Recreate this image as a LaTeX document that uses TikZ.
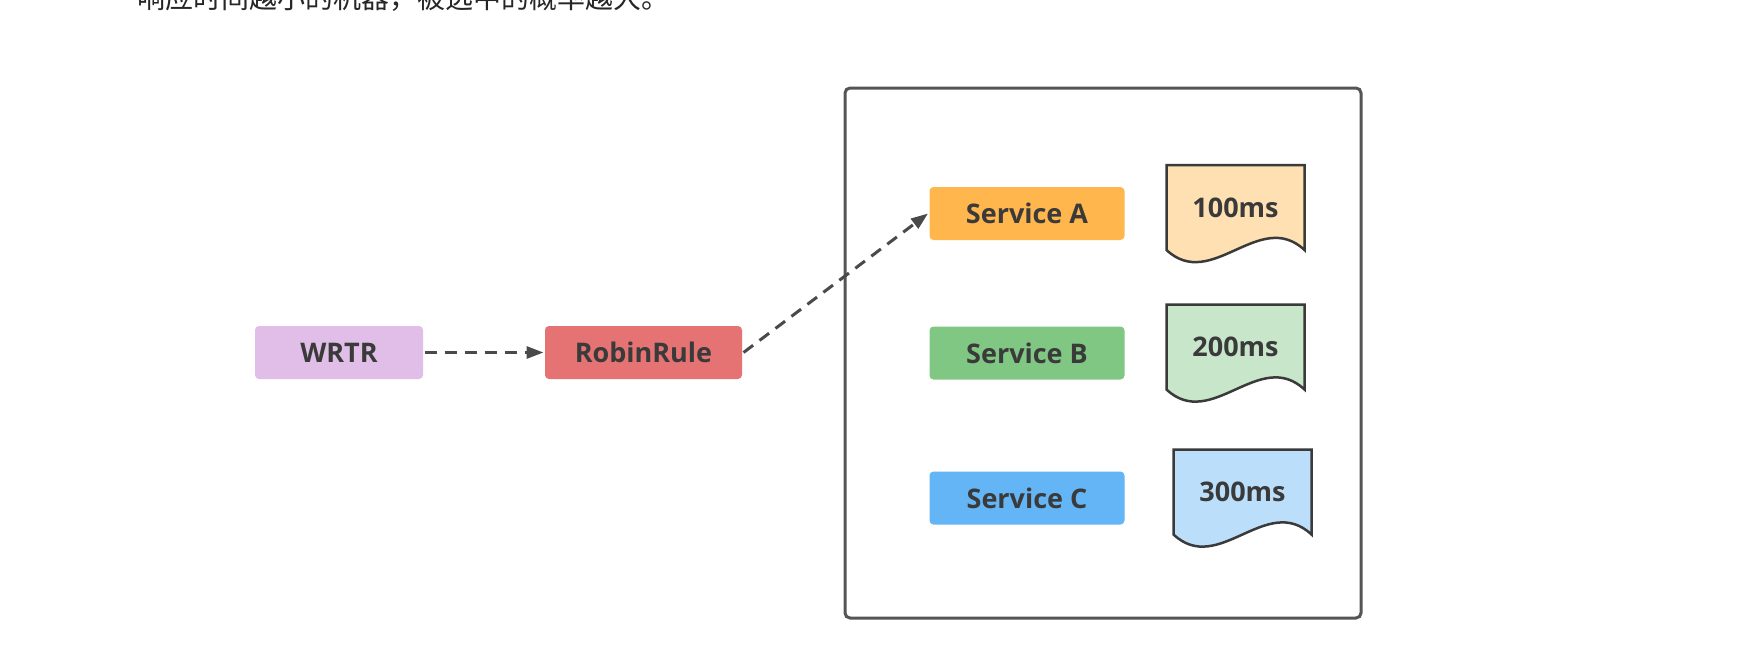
\documentclass[tikz,border=0pt]{standalone}
\usepackage{fontspec}
\setmainfont{Open Sans}
\newfontfamily\cjk{Noto Sans CJK SC}
\usetikzlibrary{calc,arrows.meta}

\definecolor{ink}{HTML}{3A3A3A}
\definecolor{lead}{HTML}{4A4A4A}
\definecolor{frameline}{HTML}{555555}
\definecolor{wrtrfill}{HTML}{E1BEE7}
\definecolor{robinfill}{HTML}{E57373}
\definecolor{svcA}{HTML}{FFB74D}
\definecolor{svcB}{HTML}{81C784}
\definecolor{svcC}{HTML}{64B5F6}
\definecolor{docA}{HTML}{FFE0B2}
\definecolor{docB}{HTML}{C8E6C9}
\definecolor{docC}{HTML}{BBDEFB}

\tikzset{
every picture/.style={
line width=3pt
}}
\tikzset{
box/.style={rounded corners=4pt, minimum height=53pt, inner sep=0pt,
  text=ink, font=\fontsize{27}{32}\selectfont\bfseries},
docnode/.style={minimum width=135pt, minimum height=82pt, inner sep=0pt,
  text=ink, font=\fontsize{27}{32}\selectfont\bfseries},
flow/.style={draw=lead, dash pattern=on 12pt off 8pt,
  -{Triangle[length=17pt,width=12pt]}}
}

\begin{document}
\begin{tikzpicture}[x=1pt,y=-1pt]
  \clip (0,0) rectangle (1749,654);
  \fill[white] (0,0) rectangle (1749,654);

  % cut-off line of text above the figure
  \node (intro) [anchor=base west, text=black!85, font=\cjk\fontsize{28}{34}\selectfont]
    at (133,8) {响应时间越小的机器，被选中的概率越大。};

  \node (wrtr) [box, fill=wrtrfill, minimum width=168pt] at (339,352.5) {WRTR};
  \node (robin) [box, fill=robinfill, minimum width=197pt] at (643.5,352.5) {RobinRule};

  % server group
  \draw[frameline, rounded corners=5pt] (845,88) rectangle (1361,618);

  \foreach \n/\y/\t/\dx in {A/213.5/100/0, B/353/200/0, C/498/300/7}{
    \node (svc\n) [box, fill=svc\n, minimum width=195pt] at (1027,\y) {Service \n};
    \node (doc\n) [docnode] at (1235.5+\dx,\y-6) {\t ms};
    \draw[ink, line width=2.5pt, fill=doc\n] (doc\n.south west) -- (doc\n.north west)
      -- (doc\n.north east) -- (doc\n.south east)
      .. controls ($(doc\n.south east)+(-45,-42)$) and ($(doc\n.south west)+(45,42)$)
      .. (doc\n.south west) -- cycle;
    \node at (doc\n) [docnode] {\t ms};
  }

  \draw[flow] (wrtr.east) -- (robin.west);
  \draw[flow] (robin.east) -- (svcA.west);
\end{tikzpicture}
\end{document}
